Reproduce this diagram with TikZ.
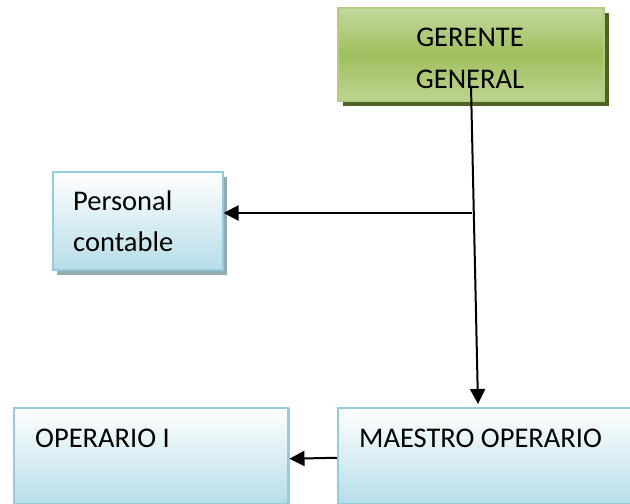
\documentclass[tikz,border=0pt]{standalone}
\usepackage{fontspec}
\setmainfont{Carlito}
\usetikzlibrary{arrows.meta,shadows,calc}
\definecolor{gtop}{HTML}{C4D89E}
\definecolor{gmid}{HTML}{A0BF5E}
\definecolor{gbot}{HTML}{BED491}
\definecolor{gborder}{HTML}{B2CC80}
\definecolor{gshadow}{HTML}{4F6228}
\definecolor{btop}{HTML}{FFFFFF}
\definecolor{bbot}{HTML}{B7DDE8}
\definecolor{bborder}{HTML}{93CDDD}
\definecolor{bshadow}{HTML}{94AAB1}
\tikzset{
  txt/.style={font=\fontsize{28.5}{41}\selectfont, inner sep=0pt},
  greenbox/.style={draw=gborder, line width=1.5pt, top color=gtop, bottom color=gbot, middle color=gmid,
    drop shadow={shadow xshift=5pt, shadow yshift=-5pt, fill=gshadow, opacity=1}},
  bluebox/.style={draw=bborder, line width=1.5pt, top color=btop, bottom color=bbot,
    drop shadow={shadow xshift=4pt, shadow yshift=-5pt, fill=bshadow, opacity=1}},
  bluebox2/.style={draw=bborder, line width=1.5pt, top color=btop, bottom color=bbot,
    drop shadow={shadow xshift=2pt, shadow yshift=0pt, fill=bshadow!70, opacity=1}},
  conn/.style={line width=2pt, -{Triangle[length=15pt,width=15pt]}},
}
\begin{document}
\begin{tikzpicture}[x=1pt,y=-1pt]
\useasboundingbox (0,0) rectangle (630,504);
% boxes
\node[greenbox, minimum width=266pt, minimum height=93pt, anchor=north west] (gerente) at (337,7) {};
\node[bluebox, minimum width=170pt, minimum height=98pt, anchor=north west] (personal) at (52,171) {};
\node[bluebox2, minimum width=274pt, minimum height=96pt, anchor=north west] (operario) at (13,407) {};
\node[bluebox2, minimum width=300pt, minimum height=96pt, anchor=north west] (maestro) at (337,407) {};
% texts
\node[txt, anchor=base] (tg1) at (470,46) {GERENTE};
\node[txt, anchor=base] (tg2) at (470,88) {GENERAL};
\node[txt, anchor=base west] (tp1) at (73,210) {Personal};
\node[txt, anchor=base west] (tp2) at (73,251) {contable};
\node[txt, anchor=base west] (to) at (35,447) {OPERARIO I};
\node[txt, anchor=base west] (tm) at (359,447) {MAESTRO OPERARIO};
% connectors
\coordinate (vstart) at (471,86);
\coordinate (vend) at ($(maestro.north west)+(141,-3)$);
\coordinate (hj) at (472,213);
\draw[conn] (vstart) -- (vend);
\draw[conn] (hj) -- (hj -| personal.east);
\draw[conn] ($(maestro.west)+(0,2)$) -- ($(operario.east)+(1,3)$);
\end{tikzpicture}
\end{document}
